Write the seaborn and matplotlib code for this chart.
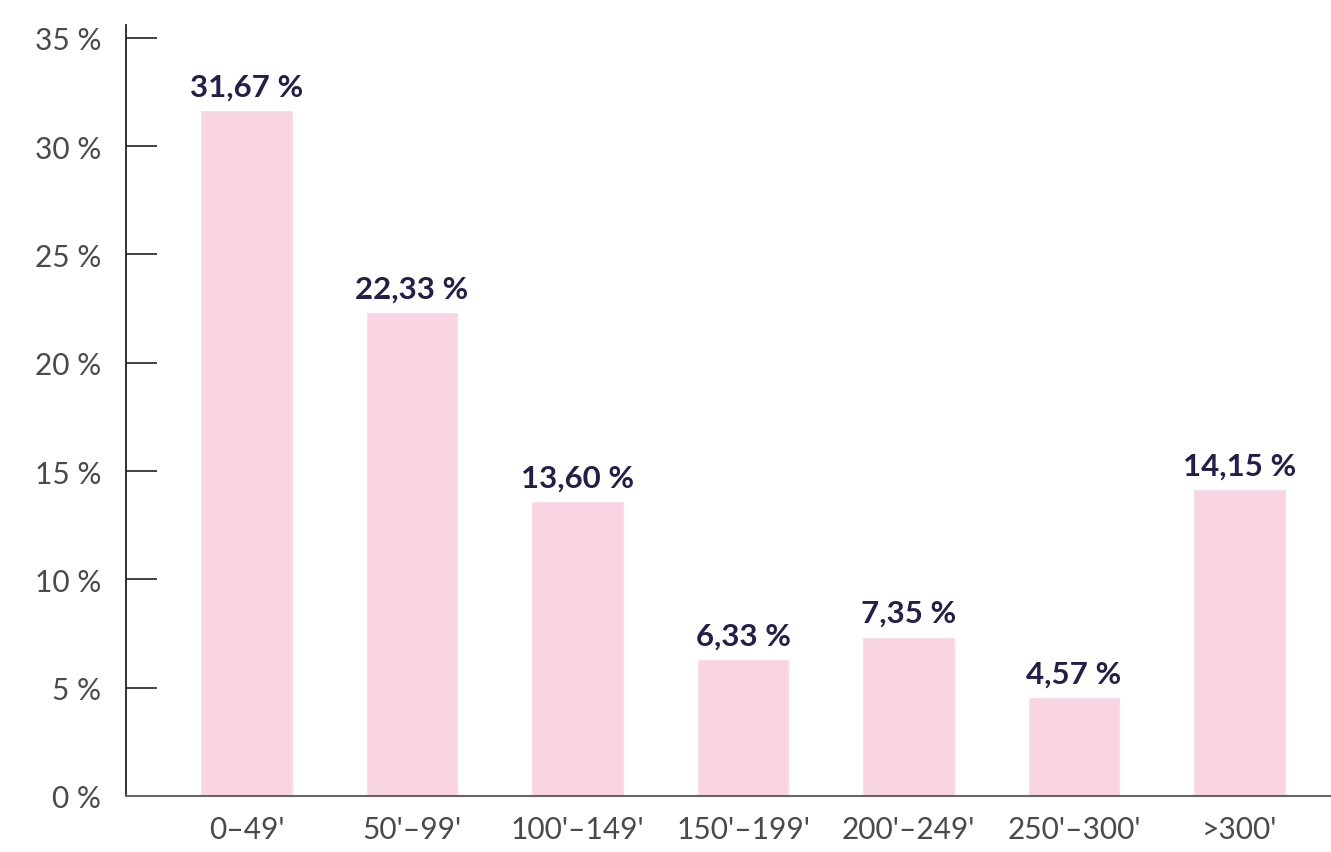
import matplotlib
matplotlib.use('Agg')
import matplotlib.pyplot as plt
import pandas as pd
import seaborn as sns

categories = ["0–49'", "50'–99'", "100'–149'", "150'–199'", "200'–249'", "250'–300'", ">300'"]
shares = [31.67, 22.33, 13.60, 6.33, 7.35, 4.57, 14.15]
value_labels = ['31,67 %', '22,33 %', '13,60 %', '6,33 %', '7,35 %', '4,57 %', '14,15 %']
y_ticks = [0, 5, 10, 15, 20, 25, 30, 35]

BAR = '#f9d5e3'
NAVY = '#231f4b'
GREY = '#4a4a4a'

sns.set_style('white')
plt.rcParams['font.family'] = ['Lato', 'DejaVu Sans']

df = pd.DataFrame({'cat': categories, 'share': shares})

fig = plt.figure(figsize=(13.31, 8.53), dpi=100)
ax = fig.add_axes([0.0947, 0.0657, 0.9053, 0.904])
sns.barplot(data=df, x='cat', y='share', color=BAR, width=0.56, saturation=1, ax=ax)

ax.bar_label(ax.containers[0], labels=value_labels, padding=7,
             fontsize=22.5, fontweight='bold', color=NAVY)

ax.set_xlim(-0.728, 6.553)
ax.set_ylim(0, 35.6)
ax.set_yticks(y_ticks)
ax.set_yticklabels([f'{t} %' for t in y_ticks])
ax.set_xlabel('')
ax.set_ylabel('')

ax.tick_params(axis='y', left=True, direction='in', length=22, width=1.3, color='#333333',
               labelsize=21.5, labelcolor=GREY, pad=18)
ax.tick_params(axis='x', bottom=False, length=0, labelsize=21.5, labelcolor=GREY, pad=14)

for side in ['top', 'right']:
    ax.spines[side].set_visible(False)
ax.spines['left'].set_color('#222222')
ax.spines['left'].set_linewidth(1.3)
ax.spines['bottom'].set_color('#666666')
ax.spines['bottom'].set_linewidth(1.5)

fig.savefig('out.png', dpi=100)
